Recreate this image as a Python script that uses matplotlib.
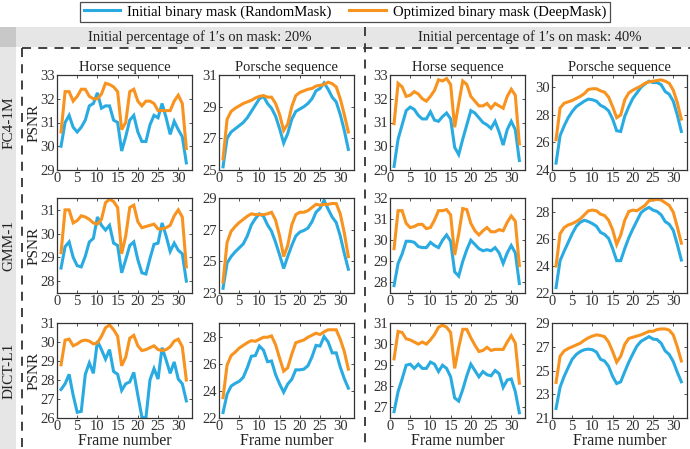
import matplotlib
matplotlib.use("Agg")
import matplotlib.pyplot as plt
from matplotlib.lines import Line2D
from matplotlib.patches import Rectangle
import numpy as np

plt.rcParams['font.family'] = ['Liberation Serif', 'DejaVu Serif']

frames = list(range(1, 33))
methods = ["FC4-1M", "GMM-1", "DICT-L1"]
sequences = ["Horse sequence", "Porsche sequence", "Horse sequence", "Porsche sequence"]
group_titles = ["Initial percentage of 1\u2032s on mask: 20%", "Initial percentage of 1\u2032s on mask: 40%"]
legend_labels = ["Initial binary mask (RandomMask)", "Optimized binary mask (DeepMask)"]

# Row 1: FC4-1M
fc4_h20_rand = [30.0, 31.0, 31.3, 30.8, 30.6, 30.8, 31.1, 31.7, 31.8, 32.25, 31.6, 31.7, 31.7, 31.1, 31.0, 29.8,
                30.4, 31.1, 31.3, 30.6, 30.2, 30.2, 30.9, 31.3, 31.2, 31.8, 31.2, 30.5, 31.05, 30.7, 30.4, 29.3]
fc4_h20_deep = [30.6, 32.3, 32.3, 31.9, 32.1, 32.4, 32.4, 32.1, 32.0, 32.0, 32.2, 32.65, 32.6, 32.5, 32.3, 30.7,
                31.0, 32.3, 32.4, 31.9, 31.7, 31.9, 31.9, 31.8, 31.5, 31.5, 31.5, 31.5, 31.9, 32.15, 31.8, 29.9]
fc4_p20_rand = [25.2, 27.0, 27.4, 27.6, 27.8, 28.0, 28.3, 28.7, 29.1, 29.5, 29.65, 29.2, 28.9, 28.4, 27.6, 26.7,
                27.3, 28.2, 28.7, 28.85, 29.0, 29.2, 29.5, 30.0, 30.15, 30.5, 30.1, 29.6, 29.3, 28.5, 27.5, 26.3]
fc4_p20_deep = [25.7, 28.2, 28.7, 28.9, 29.05, 29.2, 29.3, 29.4, 29.55, 29.65, 29.7, 29.6, 29.6, 29.2, 28.5, 27.5,
                27.9, 29.0, 29.7, 29.9, 30.0, 30.1, 30.15, 30.3, 30.35, 30.4, 30.55, 30.45, 30.25, 29.5, 28.5, 27.4]
fc4_h40_rand = [29.15, 30.3, 30.9, 31.5, 31.65, 31.55, 31.3, 31.15, 31.15, 31.45, 31.1, 31.05, 31.25, 31.4, 31.15, 29.95,
                29.65, 30.3, 30.9, 31.5, 31.4, 31.2, 31.0, 30.9, 30.75, 31.05, 30.6, 30.05, 30.7, 31.05, 30.7, 29.4]
fc4_h40_deep = [30.95, 32.65, 32.5, 32.1, 32.15, 32.3, 32.2, 32.0, 31.9, 32.1, 32.35, 32.8, 32.75, 32.85, 32.6, 30.8,
                31.8, 32.75, 32.6, 32.1, 31.9, 31.7, 31.7, 31.8, 31.6, 31.8, 31.7, 31.6, 32.1, 32.4, 32.15, 30.1]
fc4_p40_rand = [24.5, 26.5, 27.2, 27.8, 28.25, 28.6, 28.8, 29.0, 29.15, 29.1, 29.0, 28.7, 28.55, 28.3, 27.7, 26.85,
                26.8, 27.9, 28.6, 29.2, 29.6, 30.0, 30.25, 30.45, 30.35, 30.35, 30.2, 29.7, 29.5, 29.0, 28.0, 26.8]
fc4_p40_deep = [26.2, 28.5, 28.85, 28.95, 29.05, 29.2, 29.35, 29.55, 29.85, 29.9, 29.9, 29.75, 29.65, 29.3, 28.6, 27.8,
                28.0, 29.1, 29.6, 29.8, 29.95, 30.1, 30.3, 30.4, 30.45, 30.5, 30.55, 30.45, 30.3, 29.8, 28.9, 27.7]

# Row 2: GMM-1
gmm_h20_rand = [28.55, 29.45, 29.65, 29.0, 28.65, 28.6, 29.05, 29.65, 29.8, 30.7, 30.35, 30.15, 30.35, 29.6, 29.5, 28.35,
                28.9, 29.5, 29.65, 28.9, 28.35, 28.3, 28.95, 29.55, 29.6, 30.45, 29.9, 29.25, 29.6, 29.3, 29.15, 28.0]
gmm_h20_deep = [29.2, 31.0, 31.0, 30.45, 30.55, 30.75, 30.7, 30.6, 30.45, 30.4, 30.6, 31.3, 31.45, 31.35, 31.1, 29.15,
                29.9, 31.1, 31.2, 30.5, 30.25, 30.3, 30.35, 30.4, 30.2, 30.2, 30.25, 30.35, 30.75, 31.0, 30.7, 28.6]
gmm_p20_rand = [23.3, 24.9, 25.3, 25.6, 25.85, 26.1, 26.6, 27.3, 27.7, 28.0, 27.85, 27.3, 26.9, 26.2, 25.4, 24.55,
                25.3, 26.0, 26.6, 26.85, 26.95, 27.1, 27.5, 28.1, 28.35, 28.85, 28.3, 27.8, 27.45, 26.6, 25.5, 24.5]
gmm_p20_deep = [23.7, 26.2, 26.9, 27.2, 27.45, 27.65, 27.85, 28.0, 27.95, 27.95, 27.95, 28.0, 28.1, 27.6, 26.6, 25.3,
                26.0, 27.3, 27.95, 28.1, 28.1, 28.2, 28.4, 28.6, 28.55, 28.6, 28.6, 28.65, 28.65, 28.0, 26.8, 25.3]
gmm_h40_rand = [27.85, 28.9, 29.35, 29.95, 29.95, 29.9, 29.7, 29.65, 29.65, 29.9, 29.75, 29.65, 30.0, 30.25, 29.95, 28.5,
                28.3, 29.0, 29.55, 30.0, 29.8, 29.6, 29.5, 29.55, 29.5, 29.65, 29.4, 28.9, 29.4, 29.75, 29.4, 27.95]
gmm_h40_deep = [29.6, 31.4, 31.4, 30.8, 30.6, 30.65, 30.75, 30.75, 30.55, 30.6, 30.95, 31.4, 31.4, 31.45, 31.2, 29.3,
                30.3, 31.5, 31.45, 30.8, 30.45, 30.25, 30.45, 30.6, 30.4, 30.4, 30.5, 30.45, 30.85, 31.15, 30.9, 28.8]
gmm_p40_rand = [22.4, 24.4, 25.1, 25.75, 26.4, 26.95, 27.25, 27.4, 27.3, 27.15, 26.95, 26.5, 26.35, 26.05, 25.3, 24.4,
                24.4, 25.3, 26.1, 26.75, 27.35, 27.95, 28.2, 28.35, 28.15, 28.05, 27.8, 27.3, 27.1, 26.65, 25.6, 24.45]
gmm_p40_deep = [24.0, 26.4, 26.85, 27.05, 27.15, 27.3, 27.5, 27.8, 28.1, 28.15, 28.1, 27.85, 27.75, 27.4, 26.7, 25.6,
                26.3, 27.4, 28.05, 28.15, 28.1, 28.3, 28.5, 28.85, 28.9, 28.95, 28.9, 28.7, 28.5, 28.0, 26.9, 25.7]

# Row 3: DICT-L1
dict_h20_rand = [27.5, 27.8, 28.3, 27.2, 26.3, 26.35, 28.3, 28.9, 28.35, 30.05, 29.6, 29.1, 29.6, 28.45, 28.3, 27.45,
                 27.8, 27.9, 28.4, 27.2, 26.05, 26.0, 28.0, 28.6, 28.05, 29.7, 29.05, 28.35, 28.95, 28.05, 27.8, 26.9]
dict_h20_deep = [28.8, 30.1, 30.15, 29.8, 29.9, 30.05, 30.1, 30.05, 29.9, 29.95, 30.3, 30.75, 30.9, 30.65, 30.3, 28.75,
                 29.2, 30.2, 30.35, 29.8, 29.55, 29.6, 29.7, 29.8, 29.6, 29.55, 29.6, 29.75, 30.05, 30.15, 29.75, 28.0]
dict_p20_rand = [22.4, 23.75, 24.35, 24.55, 24.7, 25.0, 25.7, 26.55, 26.6, 27.3, 27.0, 26.15, 26.2, 25.2, 24.5, 23.9,
                 24.5, 24.85, 25.55, 25.55, 25.6, 25.85, 26.5, 27.35, 27.3, 28.0, 27.6, 26.8, 26.8, 25.75, 24.9, 24.2]
dict_p20_deep = [23.5, 25.9, 26.6, 26.85, 27.15, 27.35, 27.55, 27.7, 27.65, 27.8, 27.95, 27.95, 28.05, 27.4, 26.4, 25.45,
                 25.7, 26.7, 27.55, 27.65, 27.75, 27.95, 28.1, 28.25, 28.15, 28.35, 28.5, 28.5, 28.5, 27.8, 26.9, 25.6]
dict_h40_rand = [26.8, 27.75, 28.35, 29.0, 29.05, 28.85, 29.05, 28.85, 28.85, 29.15, 29.05, 28.7, 29.0, 28.85, 28.45, 27.45,
                 27.3, 27.85, 28.5, 29.05, 28.75, 28.45, 28.7, 28.55, 28.5, 28.75, 28.6, 27.95, 28.3, 28.35, 27.75, 26.75]
dict_h40_deep = [29.3, 30.6, 30.55, 30.25, 30.2, 30.1, 30.0, 30.1, 30.0, 30.2, 30.45, 30.8, 30.9, 30.8, 30.55, 28.85,
                 29.85, 30.7, 30.7, 30.3, 29.95, 29.65, 29.7, 29.85, 29.7, 29.75, 29.75, 29.75, 30.1, 30.4, 30.05, 28.15]
dict_p40_rand = [21.8, 23.6, 24.5, 25.25, 25.95, 26.35, 26.6, 26.75, 26.8, 26.75, 26.55, 25.95, 25.8, 25.35, 24.5, 23.9,
                 24.05, 24.9, 25.7, 26.4, 27.05, 27.45, 27.65, 27.85, 27.65, 27.6, 27.3, 26.65, 26.35, 25.75, 24.85, 24.05]
dict_p40_deep = [24.0, 26.2, 26.65, 26.85, 27.0, 27.15, 27.3, 27.55, 27.75, 27.9, 28.0, 27.95, 27.85, 27.4, 26.6, 25.7,
                 26.2, 27.2, 27.7, 27.8, 27.9, 28.0, 28.15, 28.3, 28.3, 28.45, 28.5, 28.5, 28.4, 28.0, 27.0, 25.8]

series = [
    [(fc4_h20_rand, fc4_h20_deep), (fc4_p20_rand, fc4_p20_deep), (fc4_h40_rand, fc4_h40_deep), (fc4_p40_rand, fc4_p40_deep)],
    [(gmm_h20_rand, gmm_h20_deep), (gmm_p20_rand, gmm_p20_deep), (gmm_h40_rand, gmm_h40_deep), (gmm_p40_rand, gmm_p40_deep)],
    [(dict_h20_rand, dict_h20_deep), (dict_p20_rand, dict_p20_deep), (dict_h40_rand, dict_h40_deep), (dict_p40_rand, dict_p40_deep)],
]

ylims = [
    [(29, 33), (25, 31), (29, 33), (24, 30.9)],
    [(27.5, 31.5), (23, 29), (27.5, 32), (22, 29.05)],
    [(26, 31), (22, 29), (26.5, 31), (21, 29)],
]
yticks = [
    [[29, 30, 31, 32, 33], [25, 27, 29, 31], [29, 30, 31, 32, 33], [24, 26, 28, 30]],
    [[28, 29, 30, 31], [23, 25, 27, 29], [28, 29, 30, 31, 32], [22, 24, 26, 28]],
    [[26, 27, 28, 29, 30, 31], [22, 24, 26, 28], [27, 28, 29, 30, 31], [21, 23, 25, 27, 29]],
]
xticks = [0, 5, 10, 15, 20, 25, 30]

BLUE = "#29ABE2"
ORANGE = "#F7931E"
W, H = 690, 449

fig = plt.figure(figsize=(6.9, 4.49), dpi=100)

def fx(px):
    return px / W

def fy(py):
    return 1 - py / H

# Background bands
fig.patches.append(Rectangle((fx(0), fy(47)), fx(690), 20 / H, transform=fig.transFigure,
                             facecolor="#e6e6e6", edgecolor="none", zorder=0))
fig.patches.append(Rectangle((fx(0), fy(449)), fx(16), (449 - 47) / H, transform=fig.transFigure,
                             facecolor="#e6e6e6", edgecolor="none", zorder=0))
fig.patches.append(Rectangle((fx(0), fy(47)), fx(16), 20 / H, transform=fig.transFigure,
                             facecolor="#c8c8c8", edgecolor="none", zorder=0))

# Dashed separators
dash = dict(color="#333333", linewidth=1.3, linestyle=(0, (5, 4)), transform=fig.transFigure)
fig.lines.append(Line2D([fx(22), fx(690)], [fy(48), fy(48)], **dash))
fig.lines.append(Line2D([fx(22), fx(22)], [fy(48), fy(449)], **dash))
fig.lines.append(Line2D([fx(365), fx(365)], [fy(27), fy(449)], **dash))

# Group titles
fig.text(fx(200), fy(37), group_titles[0], ha="center", va="center", fontsize=10.5, color="#222222")
fig.text(fx(530), fy(37), group_titles[1], ha="center", va="center", fontsize=10.5, color="#222222")

col_left = [57, 219, 390, 552]
row_top = [75, 198, 323]
aw, ah = 135, 95

for r in range(3):
    for c in range(4):
        ax = fig.add_axes([fx(col_left[c]), fy(row_top[r] + ah), aw / W, ah / H])
        rand, deep = series[r][c]
        ax.plot(frames, rand, color=BLUE, linewidth=2.2, solid_joinstyle="miter")
        ax.plot(frames, deep, color=ORANGE, linewidth=2.2, solid_joinstyle="miter")
        ax.set_xlim(0, 33.4)
        ax.set_ylim(*ylims[r][c])
        ax.set_xticks(xticks)
        ax.set_yticks(yticks[r][c])
        ax.tick_params(direction="in", top=True, right=True, length=2.5, width=0.6,
                       labelsize=10.5, colors="#333333", pad=1.5)
        for s in ax.spines.values():
            s.set_color("#333333")
            s.set_linewidth(0.9)
        if r == 0:
            ax.set_title(sequences[c], fontsize=10.5, pad=3, color="#222222")
        if c == 0:
            ax.set_ylabel("PSNR", fontsize=11, labelpad=0, color="#222222")
        if r == 2:
            ax.set_xlabel("Frame number", fontsize=11.5, labelpad=0, color="#222222")

# Row labels
for r, name in enumerate(methods):
    fig.text(fx(9), fy(row_top[r] + ah / 2), name, rotation=90, ha="center", va="center",
             fontsize=11, color="#222222")

# Legend
handles = [Line2D([], [], color=BLUE, linewidth=2.2), Line2D([], [], color=ORANGE, linewidth=2.2)]
leg = fig.legend(handles, legend_labels, loc="center", bbox_to_anchor=(0.5, fy(12)), ncol=2,
                 fontsize=10.5, frameon=True, fancybox=False, edgecolor="#222222",
                 handlelength=2.5, columnspacing=1.2, borderpad=0.25, handletextpad=0.5)
leg.get_frame().set_linewidth(0.9)

fig.savefig("out.png", dpi=100)
